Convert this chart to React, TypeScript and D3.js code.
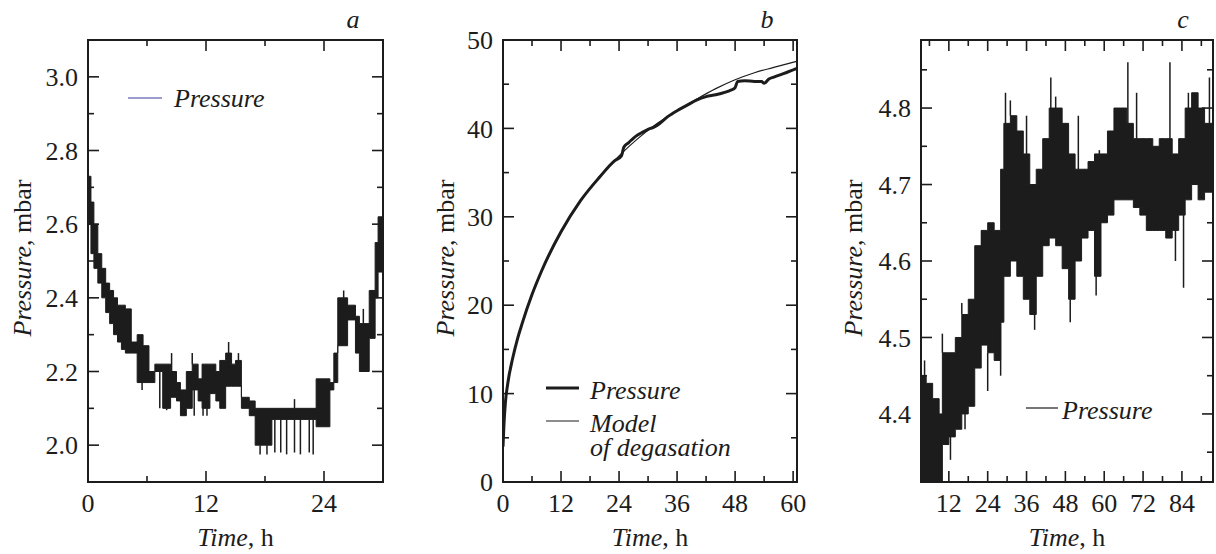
import { useRef, useEffect } from 'react';
import * as d3 from 'd3';

// panel a: quantised pressure band (step start time, low, high), h / mbar
const timeA = [0, 0.3, 0.6, 1.0, 1.4, 1.8, 2.2, 2.6, 3.0, 3.4, 3.8, 4.4, 5.0, 5.6, 6.2, 6.8, 7.6, 8.4, 9.0, 9.4, 10.0, 10.6, 11.2, 11.6, 12.4, 13.0, 13.4, 14.0, 14.6, 15.0, 15.6, 16.4, 17.0, 18.7, 23.2, 24.6, 25.0, 25.4, 26.4, 27.2, 27.6, 28.6, 29.2, 29.5, 30.0];
const lowA = [2.60, 2.52, 2.48, 2.44, 2.40, 2.36, 2.33, 2.30, 2.28, 2.26, 2.25, 2.25, 2.17, 2.17, 2.17, 2.20, 2.10, 2.13, 2.12, 2.08, 2.10, 2.15, 2.12, 2.10, 2.14, 2.12, 2.10, 2.16, 2.16, 2.16, 2.10, 2.08, 2.00, 2.07, 2.05, 2.15, 2.17, 2.27, 2.34, 2.25, 2.20, 2.29, 2.40, 2.47, 2.47];
const highA = [2.73, 2.66, 2.60, 2.52, 2.48, 2.44, 2.42, 2.40, 2.38, 2.38, 2.37, 2.28, 2.30, 2.27, 2.20, 2.22, 2.22, 2.20, 2.17, 2.15, 2.20, 2.22, 2.18, 2.22, 2.22, 2.20, 2.23, 2.25, 2.22, 2.23, 2.13, 2.12, 2.10, 2.10, 2.18, 2.17, 2.25, 2.40, 2.38, 2.35, 2.33, 2.42, 2.55, 2.62, 2.62];
const spikeTimeA = [5.5, 7.3, 8.0, 8.5, 10.6, 10.8, 11.7, 12.1, 14.3, 15.3, 17.5, 18.2, 19.0, 19.6, 20.2, 21.0, 21.0, 21.6, 22.5, 22.9, 26.0, 28.0];
const spikeValA = [2.15, 2.10, 2.095, 2.25, 2.25, 2.08, 2.08, 2.08, 2.28, 2.25, 1.975, 1.975, 1.98, 1.98, 1.975, 2.125, 1.98, 1.975, 1.98, 1.975, 2.42, 2.37];

// panel b: measured pressure and degasation model
const timeB = [0, 0.2, 0.5, 1, 2, 3, 4, 6, 8, 12, 16, 20, 23, 24.5, 25, 26, 27, 28, 29, 30, 31, 32, 34, 36, 38, 40, 42, 44, 46, 47, 48, 48.5, 50, 52, 53.5, 54, 55, 56, 58, 60.8];
const pressureB = [4.0, 6.5, 9.0, 11.2, 14.0, 16.2, 18.0, 21.2, 23.9, 28.3, 31.8, 34.5, 36.3, 36.9, 37.9, 38.4, 38.9, 39.3, 39.6, 39.9, 40.1, 40.4, 41.3, 42.0, 42.6, 43.2, 43.6, 43.8, 44.1, 44.3, 44.6, 45.3, 45.4, 45.3, 45.3, 45.1, 45.6, 45.8, 46.2, 46.8];
const timeModelB = [0, 0.2, 0.5, 1, 2, 3, 4, 6, 8, 12, 16, 20, 24, 28, 32, 36, 40, 44, 48, 52, 56, 60.8];
const modelB = [4.0, 6.5, 9.0, 11.2, 14.0, 16.2, 18.0, 21.2, 23.9, 28.2, 31.8, 34.6, 36.9, 38.9, 40.6, 42.0, 43.3, 44.5, 45.5, 46.3, 46.9, 47.6];

// panel c: noisy pressure band + spikes
const timeC = [3.4, 5, 7, 9, 10, 12, 14, 16, 18, 20, 22, 24, 26, 28, 29, 31, 33, 35, 37, 39, 41, 43, 45, 47, 49, 51, 53, 55, 57, 59, 61, 63, 65, 67, 69, 71, 73, 75, 77, 79, 81, 83, 85, 87, 89, 91, 93.6];
const lowC = [4.31, 4.31, 4.31, 4.31, 4.36, 4.37, 4.38, 4.40, 4.41, 4.46, 4.49, 4.48, 4.47, 4.52, 4.58, 4.60, 4.58, 4.55, 4.53, 4.58, 4.62, 4.63, 4.62, 4.59, 4.55, 4.60, 4.63, 4.64, 4.58, 4.65, 4.66, 4.68, 4.68, 4.68, 4.67, 4.66, 4.64, 4.64, 4.64, 4.63, 4.64, 4.66, 4.68, 4.70, 4.68, 4.69, 4.69];
const highC = [4.45, 4.44, 4.42, 4.40, 4.48, 4.48, 4.50, 4.53, 4.55, 4.62, 4.64, 4.65, 4.64, 4.72, 4.78, 4.79, 4.77, 4.74, 4.70, 4.72, 4.76, 4.80, 4.80, 4.78, 4.74, 4.72, 4.72, 4.73, 4.74, 4.74, 4.77, 4.80, 4.80, 4.78, 4.76, 4.76, 4.76, 4.75, 4.76, 4.76, 4.74, 4.76, 4.80, 4.82, 4.80, 4.78, 4.78];
const spikeTimeC = [4.5, 10, 12.5, 16, 17, 22.2, 24, 28, 29.5, 31, 36, 38.5, 43.5, 45, 49.5, 52, 57.5, 58.5, 67.3, 70, 80.3, 82, 84.5, 86, 92.5];
const spikeValC = [4.47, 4.505, 4.34, 4.545, 4.38, 4.64, 4.43, 4.45, 4.82, 4.81, 4.79, 4.51, 4.84, 4.815, 4.52, 4.79, 4.555, 4.745, 4.86, 4.82, 4.86, 4.60, 4.565, 4.82, 4.84];

// tick labels
const xLabelsA = [0, 12, 24];
const yLabelsA = [2.0, 2.2, 2.4, 2.6, 2.8, 3.0];
const xLabelsB = [0, 12, 24, 36, 48, 60];
const yLabelsB = [0, 10, 20, 30, 40, 50];
const xLabelsC = [12, 24, 36, 48, 60, 72, 84];
const yLabelsC = [4.4, 4.5, 4.6, 4.7, 4.8];

const FONT = 'Liberation Serif';
const FS = 26;
const INK = '#1c1c1c';
const top = 40, bottom = 482;

export default function App() {
  const svgRef = useRef(null);

  useEffect(() => {
    const svg = d3.select(svgRef.current);
    svg.selectAll('*').remove();

    const label = (sel) => sel.style('font-family', FONT).style('font-size', FS + 'px').attr('fill', INK);

    function frame(id, left, right, x, y, xMajor, xMinor, yMajor, yMinor, fmt, titleX, letter) {
      const g = svg.append('g');
      svg.append('clipPath').attr('id', 'clip-' + id)
        .append('rect').attr('x', left).attr('y', top).attr('width', right - left).attr('height', bottom - top);

      const tick = (x1, y1, x2, y2) => g.append('line')
        .attr('x1', x1).attr('y1', y1).attr('x2', x2).attr('y2', y2)
        .attr('stroke', INK).attr('stroke-width', 1.6);

      xMajor.forEach(v => { tick(x(v), bottom, x(v), bottom - 11); tick(x(v), top, x(v), top + 11); });
      xMinor.forEach(v => { tick(x(v), bottom, x(v), bottom - 6); tick(x(v), top, x(v), top + 6); });
      yMajor.forEach(v => { tick(left, y(v), left + 11, y(v)); tick(right, y(v), right - 11, y(v)); });
      yMinor.forEach(v => { tick(left, y(v), left + 6, y(v)); tick(right, y(v), right - 6, y(v)); });

      g.append('rect').attr('x', left).attr('y', top).attr('width', right - left).attr('height', bottom - top)
        .attr('fill', 'none').attr('stroke', INK).attr('stroke-width', 2);

      g.selectAll('text.xl').data(xMajor).join('text')
        .attr('x', d => x(d)).attr('y', 512).attr('text-anchor', 'middle')
        .call(label).text(d => d);
      g.selectAll('text.yl').data(yMajor).join('text')
        .attr('x', left - 10).attr('y', d => y(d)).attr('dy', '0.35em').attr('text-anchor', 'end')
        .call(label).text(d => fmt(d));

      const xt = g.append('text').attr('x', (left + right) / 2).attr('y', 546).attr('text-anchor', 'middle')
        .call(label);
      xt.append('tspan').style('font-style', 'italic').text('Time');
      xt.append('tspan').text(', h');

      const yt = g.append('text').attr('transform', `translate(${titleX},258) rotate(-90)`)
        .attr('text-anchor', 'middle').call(label);
      yt.append('tspan').style('font-style', 'italic').text('Pressure');
      yt.append('tspan').text(', mbar');

      g.append('text').attr('x', right - 30).attr('y', 28).attr('text-anchor', 'middle')
        .call(label).style('font-style', 'italic').text(letter);
    }

    function band(id, x, y, time, low, high, sTime, sVal) {
      const rows = time.map((t, i) => ({ t, lo: low[i], hi: high[i] }));
      const area = d3.area().curve(d3.curveStepAfter)
        .x(d => x(d.t)).y0(d => y(d.lo)).y1(d => y(d.hi));
      const g = svg.append('g').attr('clip-path', `url(#clip-${id})`);
      g.append('path').attr('d', area(rows)).attr('fill', INK).attr('stroke', INK).attr('stroke-width', 1);
      sTime.forEach((t, i) => {
        const k = Math.max(0, d3.bisectRight(time, t) - 1);
        const v = sVal[i];
        const from = v > high[k] ? high[k] : low[k];
        g.append('line').attr('x1', x(t)).attr('x2', x(t)).attr('y1', y(from)).attr('y2', y(v))
          .attr('stroke', INK).attr('stroke-width', 1.5);
      });
    }

    const legendText = (x, y, s) => svg.append('text').attr('x', x).attr('y', y)
      .call(label).style('font-style', 'italic').text(s);

    // ---- panel a
    const xA = d3.scaleLinear().domain([0, 30]).range([88, 383]);
    const yA = d3.scaleLinear().domain([1.9, 3.1]).range([bottom, top]);
    band('a', xA, yA, timeA, lowA, highA, spikeTimeA, spikeValA);
    frame('a', 88, 383, xA, yA, xLabelsA, [6, 18], yLabelsA, [2.1, 2.3, 2.5, 2.7, 2.9], d3.format('.1f'), 31, 'a');
    svg.append('line').attr('x1', 128).attr('x2', 162).attr('y1', 98).attr('y2', 98)
      .attr('stroke', '#3b3b9e').attr('stroke-width', 1.2);
    legendText(174, 107, 'Pressure');

    // ---- panel b
    const xB = d3.scaleLinear().domain([0, 60.8]).range([503, 797]);
    const yB = d3.scaleLinear().domain([0, 50]).range([bottom, top]);
    const gB = svg.append('g').attr('clip-path', 'url(#clip-b)');
    const lineB = d3.line().x(d => xB(d[0])).y(d => yB(d[1])).curve(d3.curveMonotoneX);
    gB.append('path').attr('d', lineB(timeModelB.map((t, i) => [t, modelB[i]])))
      .attr('fill', 'none').attr('stroke', INK).attr('stroke-width', 1.2);
    gB.append('path').attr('d', lineB(timeB.map((t, i) => [t, pressureB[i]])))
      .attr('fill', 'none').attr('stroke', INK).attr('stroke-width', 3);
    frame('b', 503, 797, xB, yB, xLabelsB, [6, 18, 30, 42, 54], yLabelsB, [5, 15, 25, 35, 45], d3.format('d'), 454, 'b');
    svg.append('line').attr('x1', 546).attr('x2', 579).attr('y1', 388).attr('y2', 388)
      .attr('stroke', INK).attr('stroke-width', 3);
    svg.append('line').attr('x1', 546).attr('x2', 579).attr('y1', 421).attr('y2', 421)
      .attr('stroke', INK).attr('stroke-width', 1.2);
    legendText(590, 399, 'Pressure');
    legendText(590, 432, 'Model');
    legendText(590, 456, 'of degasation');

    // ---- panel c
    const xC = d3.scaleLinear().domain([3.4, 93.6]).range([921, 1213]);
    const yC = d3.scaleLinear().domain([4.311, 4.889]).range([bottom, top]);
    band('c', xC, yC, timeC, lowC, highC, spikeTimeC, spikeValC);
    frame('c', 921, 1213, xC, yC, xLabelsC, [6, 18, 30, 42, 54, 66, 78, 90], yLabelsC,
      [4.35, 4.45, 4.55, 4.65, 4.75, 4.85], d3.format('.1f'), 862, 'c');
    svg.append('line').attr('x1', 1026).attr('x2', 1058).attr('y1', 408).attr('y2', 408)
      .attr('stroke', INK).attr('stroke-width', 1.2);
    legendText(1062, 419, 'Pressure');
  }, []);

  return (
    <svg ref={svgRef} width={1216} height={554}
      style={{ position: 'absolute', left: 0, top: 0, background: '#fff' }} />
  );
}
